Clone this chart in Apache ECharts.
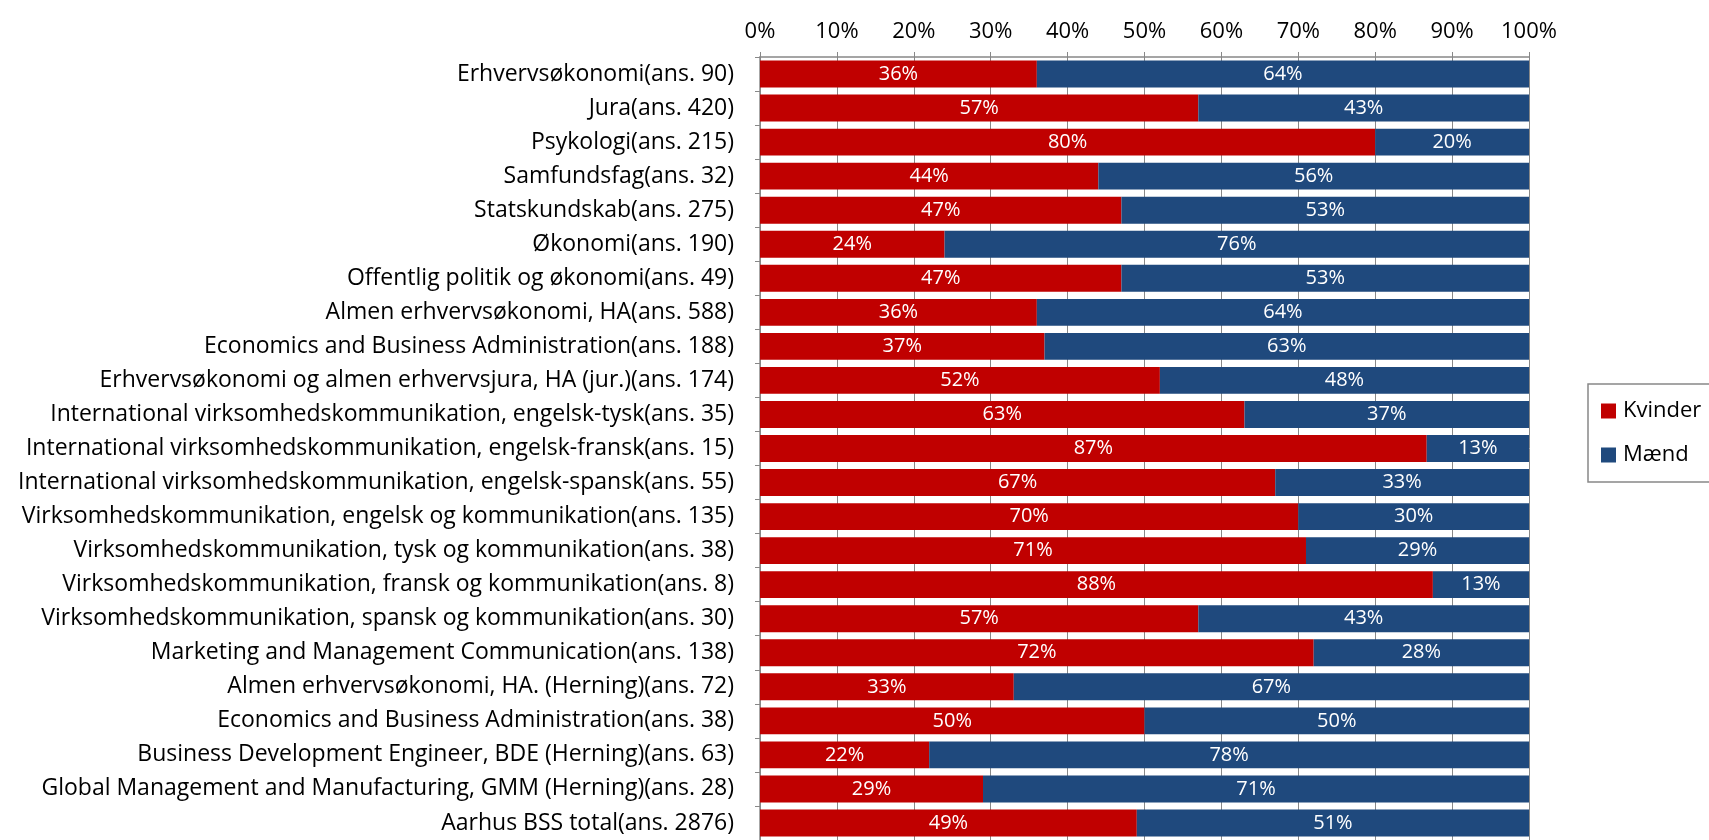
<!DOCTYPE html>
<html>
<head>
<meta charset="utf-8">
<script src="https://cdn.jsdelivr.net/npm/echarts@6/dist/echarts.min.js"></script>
<style>html,body{margin:0;padding:0;background:#fff}#c{width:1709px;height:840px}</style>
</head>
<body>
<div id="c"></div>
<script>
const categories = [
  'Erhvervsøkonomi(ans. 90)',
  'Jura(ans. 420)',
  'Psykologi(ans. 215)',
  'Samfundsfag(ans. 32)',
  'Statskundskab(ans. 275)',
  'Økonomi(ans. 190)',
  'Offentlig politik og økonomi(ans. 49)',
  'Almen erhvervsøkonomi, HA(ans. 588)',
  'Economics and Business Administration(ans. 188)',
  'Erhvervsøkonomi og almen erhvervsjura, HA (jur.)(ans. 174)',
  'International virksomhedskommunikation, engelsk-tysk(ans. 35)',
  'International virksomhedskommunikation, engelsk-fransk(ans. 15)',
  'International virksomhedskommunikation, engelsk-spansk(ans. 55)',
  'Virksomhedskommunikation, engelsk og kommunikation(ans. 135)',
  'Virksomhedskommunikation, tysk og kommunikation(ans. 38)',
  'Virksomhedskommunikation, fransk og kommunikation(ans. 8)',
  'Virksomhedskommunikation, spansk og kommunikation(ans. 30)',
  'Marketing and Management Communication(ans. 138)',
  'Almen erhvervsøkonomi, HA. (Herning)(ans. 72)',
  'Economics and Business Administration(ans. 38)',
  'Business Development Engineer, BDE (Herning)(ans. 63)',
  'Global Management and Manufacturing, GMM (Herning)(ans. 28)',
  'Aarhus BSS total(ans. 2876)'
];
const kvinder = [36, 57, 80, 44, 47, 24, 47, 36, 37, 52, 63, 86.7, 67, 70, 71, 87.5, 57, 72, 33, 50, 22, 29, 49];
const maend   = [64, 43, 20, 56, 53, 76, 53, 64, 63, 48, 37, 13.3, 33, 30, 29, 12.5, 43, 28, 67, 50, 78, 71, 51];
const tickValues = [0, 10, 20, 30, 40, 50, 60, 70, 80, 90, 100];

const FONT = '"Open Sans", "Noto Sans", sans-serif';
const chart = echarts.init(document.getElementById('c'));
const lbl = {
  show: true, position: 'inside', color: '#fff', fontSize: 20, fontFamily: FONT,
  formatter: p => Math.round(p.value) + '%'
};
chart.setOption({
  animation: false,
  textStyle: { fontFamily: FONT },
  grid: { left: 760, right: 180, top: 57, height: 787, containLabel: false },
  legend: {
    orient: 'vertical', left: 1588, top: 384,
    data: ['Kvinder', 'Mænd'],
    itemWidth: 15, itemHeight: 15, itemGap: 22,
    icon: 'rect',
    borderColor: '#888', borderWidth: 1.5,
    padding: [16, 40, 16, 13],
    textStyle: { fontSize: 22, color: '#000', fontFamily: FONT, padding: [0, 0, 0, 2] }
  },
  xAxis: {
    type: 'value', position: 'top', min: 0, max: 100, interval: 10,
    axisLine: { show: true, lineStyle: { color: '#888', width: 1.5 } },
    axisTick: { show: true, length: 5, lineStyle: { color: '#888' } },
    splitLine: { show: true, lineStyle: { color: '#888', width: 1 } },
    axisLabel: { fontSize: 22, color: '#000', margin: 14, formatter: v => tickValues.includes(v) ? v + '%' : '' }
  },
  yAxis: {
    type: 'category', inverse: true, data: categories,
    axisLine: { show: true, lineStyle: { color: '#888', width: 1.5 } },
    axisTick: { show: true, length: 5, lineStyle: { color: '#888' } },
    axisLabel: { fontSize: 23, color: '#000', margin: 26 }
  },
  series: [
    { name: 'Kvinder', type: 'bar', stack: 's', data: kvinder, barCategoryGap: '21%',
      itemStyle: { color: '#C00000' }, label: lbl },
    { name: 'Mænd', type: 'bar', stack: 's', data: maend, barCategoryGap: '21%',
      itemStyle: { color: '#1F497D' }, label: lbl }
  ]
});
</script>
</body>
</html>
